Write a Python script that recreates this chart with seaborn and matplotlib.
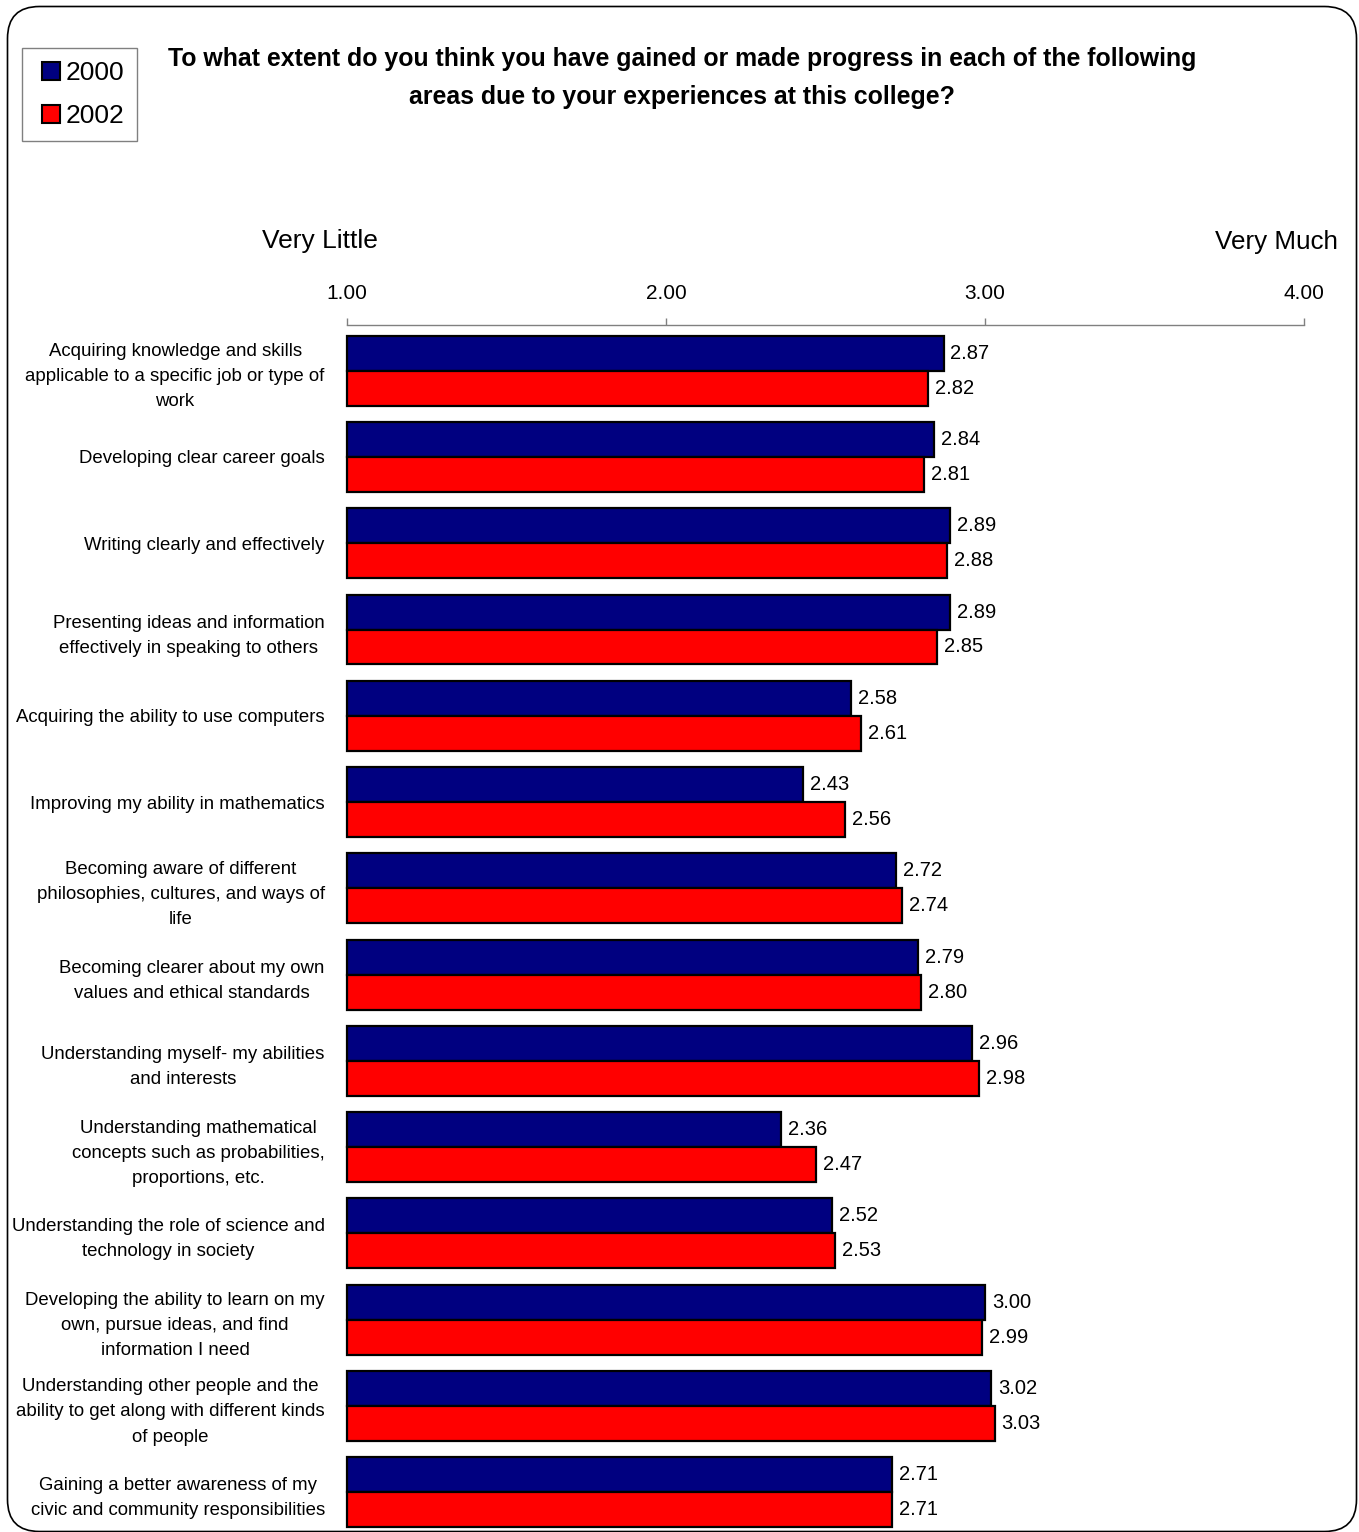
import matplotlib
matplotlib.use("Agg")
import matplotlib.pyplot as plt
from matplotlib.lines import Line2D
from matplotlib.patches import FancyBboxPatch
import pandas as pd
import seaborn as sns

categories = [
    "Acquiring knowledge and skills\napplicable to a specific job or type of\nwork",
    "Developing clear career goals",
    "Writing clearly and effectively",
    "Presenting ideas and information\neffectively in speaking to others",
    "Acquiring the ability to use computers",
    "Improving my ability in mathematics",
    "Becoming aware of different\nphilosophies, cultures, and ways of\nlife",
    "Becoming clearer about my own\nvalues and ethical standards",
    "Understanding myself- my abilities\nand interests",
    "Understanding mathematical\nconcepts such as probabilities,\nproportions, etc.",
    "Understanding the role of science and\ntechnology in society",
    "Developing the ability to learn on my\nown, pursue ideas, and find\ninformation I need",
    "Understanding other people and the\nability to get along with different kinds\nof people",
    "Gaining a better awareness of my\ncivic and community responsibilities",
]
values_2000 = [2.87, 2.84, 2.89, 2.89, 2.58, 2.43, 2.72, 2.79, 2.96, 2.36, 2.52, 3.00, 3.02, 2.71]
values_2002 = [2.82, 2.81, 2.88, 2.85, 2.61, 2.56, 2.74, 2.80, 2.98, 2.47, 2.53, 2.99, 3.03, 2.71]
years = ["2000", "2002"]
colours = ["#000080", "#ff0000"]
x_ticks = [1.0, 2.0, 3.0, 4.0]

title = ("To what extent do you think you have gained or made progress in each of the following\n"
         "areas due to your experiences at this college?")

# long format for seaborn
df = pd.concat(
    [
        pd.DataFrame({"category": categories, "year": years[0], "value": values_2000}),
        pd.DataFrame({"category": categories, "year": years[1], "value": values_2002}),
    ],
    ignore_index=True,
)

sns.set_style("white")
plt.rcParams["font.family"] = ["Liberation Sans", "DejaVu Sans"]
plt.rcParams["text.color"] = "black"
plt.rcParams["xtick.labelcolor"] = "black"
plt.rcParams["ytick.labelcolor"] = "black"

W, H = 1359, 1532
fig = plt.figure(figsize=(W / 100, H / 100), dpi=100)
ax = fig.add_axes([347 / W, 1 - 1531 / H, (1304 - 347) / W, (1531 - 325) / H])

sns.barplot(
    data=df,
    y="category",
    x="value",
    hue="year",
    hue_order=years,
    palette=colours,
    saturation=1,
    edgecolor="black",
    linewidth=1.6,
    orient="h",
    width=0.81,
    legend=False,
    ax=ax,
)

# bars start at 1.00, the scale minimum
for cont in ax.containers:
    for p in cont:
        w = p.get_width()
        p.set_x(1.0)
        p.set_width(w - 1.0)
        p.set_clip_on(False)
    ax.bar_label(cont, fmt="%.2f", padding=5, fontsize=14.5)

ax.set_xlim(1.0, 4.0)
ax.set_ylim(13.45, -0.53)
ax.xaxis.tick_top()
ax.set_xticks(x_ticks)
ax.set_xticklabels([f"{t:.2f}" for t in x_ticks])
ax.tick_params(axis="x", direction="out", length=5, width=1, color="#808080",
               labelsize=15, pad=11)
ax.tick_params(axis="y", length=0, labelsize=13.4, pad=16)
for lbl in ax.get_yticklabels():
    lbl.set_multialignment("center")
    lbl.set_linespacing(1.62)
ax.set_xlabel("")
ax.set_ylabel("")
for side in ["left", "right", "bottom"]:
    ax.spines[side].set_visible(False)
ax.spines["top"].set_color("#808080")
ax.spines["top"].set_linewidth(1)

# legend in the top left corner
handles = [
    Line2D([], [], marker="s", linestyle="none", markersize=13.5,
           markerfacecolor=c, markeredgecolor="black", markeredgewidth=1.5)
    for c in colours
]
leg = fig.legend(
    handles, years,
    loc="upper left",
    bbox_to_anchor=(22 / W, 1 - 48 / H),
    bbox_transform=fig.transFigure,
    frameon=True, fancybox=False, edgecolor="#606060",
    fontsize=19, handlelength=1.2, handletextpad=-0.05,
    labelspacing=0.72, borderpad=0.5, borderaxespad=0,
)
leg.get_frame().set_linewidth(1)

fig.text(682 / W, 1 - 78 / H, title, ha="center", va="center",
         fontsize=17.9, fontweight="bold", linespacing=1.72)
fig.text(320 / W, 1 - 241 / H, "Very Little", ha="center", va="center", fontsize=19)
fig.text(1338 / W, 1 - 242 / H, "Very Much", ha="right", va="center", fontsize=18.7)

# rounded outer border
border = FancyBboxPatch(
    (0.075, 0.005), 13.49, 15.32 - 0.065 - 0.005,
    boxstyle="round,pad=0,rounding_size=0.32",
    transform=fig.dpi_scale_trans,
    facecolor="none", edgecolor="black", linewidth=1.2,
)
fig.patches.append(border)

fig.savefig("out.png", dpi=100)
